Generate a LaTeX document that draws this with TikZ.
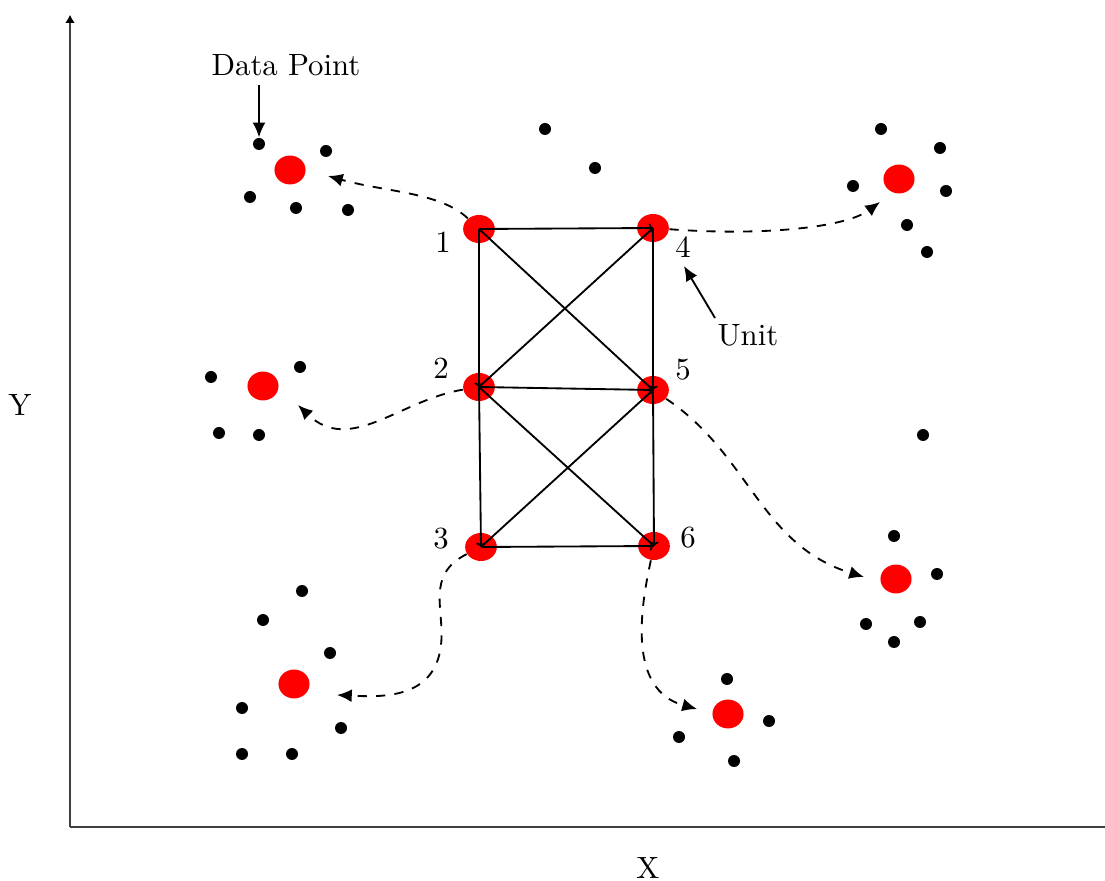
\documentclass[tikz,border=0pt]{standalone}
\usetikzlibrary{shapes.geometric,arrows.meta}
\begin{document}
\begin{tikzpicture}[x=0.325pt,y=-0.325pt,
  unitnode/.style={ellipse,fill=red,minimum width=10.3pt,minimum height=9.1pt,inner sep=0pt},
  datanode/.style={ellipse,fill=red,minimum width=10.1pt,minimum height=9.4pt,inner sep=0pt},
  dot/.style={circle,fill=black,minimum size=3.9pt,inner sep=0pt},
  gridline/.style={line width=0.6pt,-{To[length=1.4pt,width=3pt]}},
  dashedarrow/.style={dashed,line width=0.6pt,-{Latex[length=4.8pt,width=4.2pt]}},
  labelarrow/.style={line width=0.6pt,-{Latex[length=4.8pt,width=4.2pt]}},
  axis/.style={line width=0.4pt,black!75,-{Latex[length=2.6pt,width=3.2pt,color=black]}},
  lbl/.style={inner sep=0pt,font=\fontsize{10}{12}\selectfont}]
\useasboundingbox (0,0) rectangle (1105,881);

% axes
\coordinate (O) at (70,827);
\coordinate (Ytop) at (70,15);
\coordinate (Xend) at (1113,827);
\draw[axis] (O) -- (Ytop);
\draw[axis] (O) -- (Xend);
\node[lbl] (ylab) at (20,405) {Y};
\node[lbl] (xlab) at (648,868) {X};

% units
\node[unitnode] (u1) at (479,229) {};
\node[unitnode] (u4) at (653,228) {};
\node[unitnode] (u2) at (479,387) {};
\node[unitnode] (u5) at (653,390) {};
\node[unitnode] (u3) at (481,547) {};
\node[unitnode] (u6) at (654,546) {};

\node[lbl] (l1) at (443,242) {1};
\node[lbl] (l2) at (441,368) {2};
\node[lbl] (l3) at (441,539) {3};
\node[lbl] (l4) at (683,247) {4};
\node[lbl] (l5) at (683,370) {5};
\node[lbl] (l6) at (688,538) {6};

% grid connections
\draw[gridline] (u1.center) -- (u4.center);
\draw[gridline] (u2.center) -- (u5.center);
\draw[gridline] (u3.center) -- (u6.center);
\draw[gridline] (u1.center) -- (u2.center);
\draw[gridline] (u2.center) -- (u3.center);
\draw[gridline] (u4.center) -- (u5.center);
\draw[gridline] (u5.center) -- (u6.center);
\draw[gridline] (u1.center) -- (u5.center);
\draw[gridline] (u2.center) -- (u4.center);
\draw[gridline] (u2.center) -- (u6.center);
\draw[gridline] (u3.center) -- (u5.center);

% cluster A (top-left)
\node[datanode] (ra) at (290,170) {};
\node[dot] (a1) at (259,144) {};
\node[dot] (a2) at (326,151) {};
\node[dot] (a3) at (250,197) {};
\node[dot] (a4) at (296,208) {};
\node[dot] (a5) at (348,210) {};

% cluster B (left middle)
\node[datanode] (rb) at (263,386) {};
\node[dot] (b1) at (211,377) {};
\node[dot] (b2) at (300,367) {};
\node[dot] (b3) at (219,433) {};
\node[dot] (b4) at (259,435) {};

% cluster C (bottom-left)
\node[datanode] (rc) at (294,684) {};
\node[dot] (c1) at (302,591) {};
\node[dot] (c2) at (263,620) {};
\node[dot] (c3) at (330,653) {};
\node[dot] (c4) at (242,708) {};
\node[dot] (c5) at (341,728) {};
\node[dot] (c6) at (242,754) {};
\node[dot] (c7) at (292,754) {};

% cluster D (bottom-middle)
\node[datanode] (rd) at (728,714) {};
\node[dot] (d1) at (727,679) {};
\node[dot] (d2) at (769,721) {};
\node[dot] (d3) at (679,737) {};
\node[dot] (d4) at (734,761) {};

% cluster E (right)
\node[datanode] (re) at (896,579) {};
\node[dot] (e1) at (894,536) {};
\node[dot] (e2) at (937,574) {};
\node[dot] (e3) at (866,624) {};
\node[dot] (e4) at (920,622) {};
\node[dot] (e5) at (894,642) {};

% cluster F (top-right)
\node[datanode] (rf) at (899,179) {};
\node[dot] (f1) at (881,129) {};
\node[dot] (f2) at (940,148) {};
\node[dot] (f3) at (853,186) {};
\node[dot] (f4) at (946,191) {};
\node[dot] (f5) at (907,225) {};
\node[dot] (f6) at (927,252) {};

% isolated points
\node[dot] (s1) at (545,129) {};
\node[dot] (s2) at (595,168) {};
\node[dot] (s3) at (923,435) {};

% annotations
\node[lbl] (dp) at (286,65) {Data Point};
\coordinate (dpt) at (259,85);
\draw[labelarrow] (dpt) -- (a1);
\node[lbl] (unit) at (748,335) {Unit};
\coordinate (ut) at (715,318);
\coordinate (uh) at (684,266);
\draw[labelarrow] (ut) -- (uh);

% dashed assignment arrows
\coordinate (ta) at (328,176);
\coordinate (tb) at (298,405);
\coordinate (tc) at (337,695);
\coordinate (td) at (697,709);
\coordinate (te) at (864,577);
\coordinate (tf) at (880,202);
\draw[dashedarrow] (u1) .. controls (440,192) and (385,192) .. (ta);
\draw[dashedarrow] (u2) .. controls (400,400) and (350,455) .. (tb);
\draw[dashedarrow] (u3) .. controls (425,575) and (445,610) .. (441,645) .. controls (435,700) and (380,697) .. (tc);
\draw[dashedarrow] (u6) .. controls (640,610) and (628,690) .. (td);
\draw[dashedarrow] (u5) .. controls (750,455) and (760,545) .. (te);
\draw[dashedarrow] (u4) .. controls (760,236) and (845,228) .. (tf);
\end{tikzpicture}
\end{document}
